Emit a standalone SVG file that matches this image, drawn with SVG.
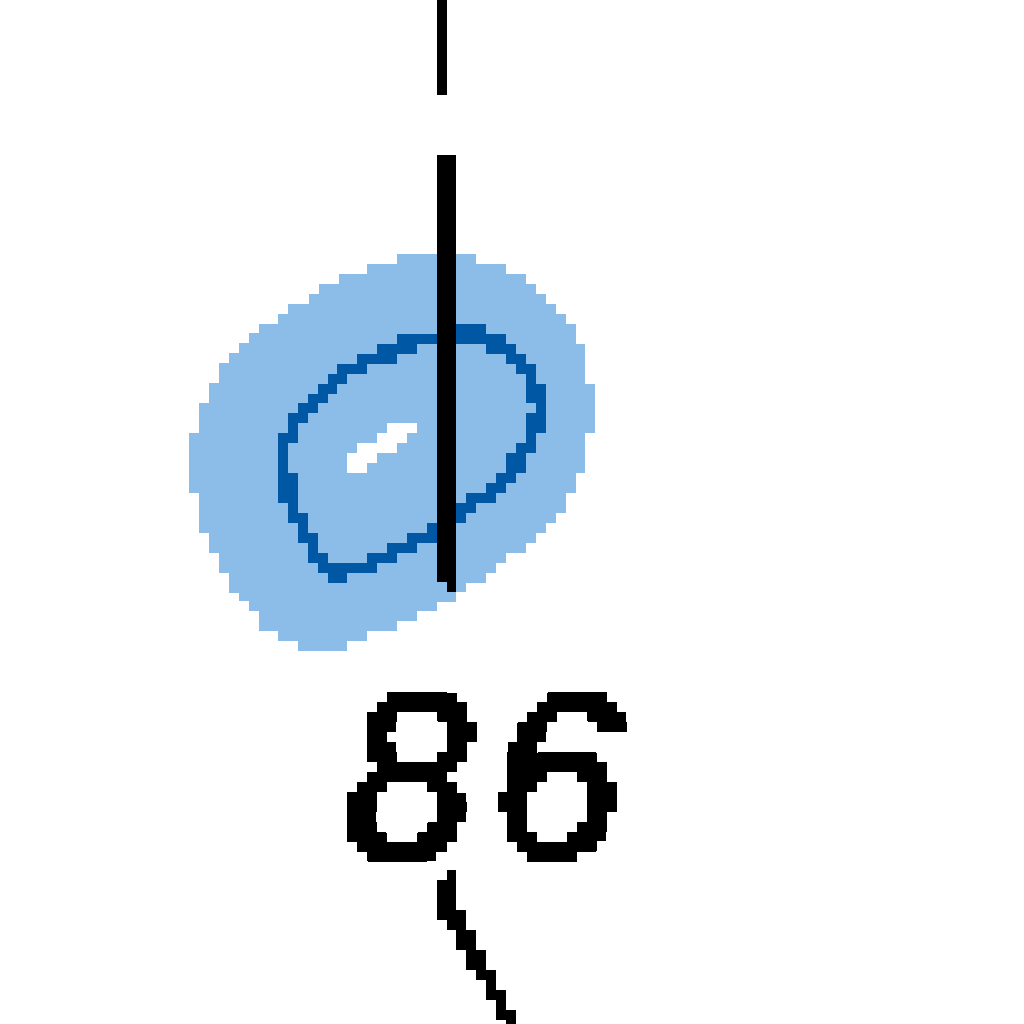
<svg xmlns="http://www.w3.org/2000/svg" width="1024" height="1024" viewBox="0 0 1024 1024">
<style>
.px{shape-rendering:crispEdges}
</style>
<defs>
<filter id="pixelate" filterUnits="userSpaceOnUse" primitiveUnits="userSpaceOnUse" x="337" y="682" width="310" height="190" color-interpolation-filters="sRGB">
<feFlood x="341" y="686" width="2" height="2"/>
<feComposite x="337" y="682" width="10" height="10"/>
<feTile result="grid"/>
<feComposite in="SourceGraphic" in2="grid" operator="in"/>
<feMorphology operator="dilate" radius="4"/>
<feComponentTransfer><feFuncA type="discrete" tableValues="0 1"/></feComponentTransfer>
</filter>
</defs>
<rect width="1024" height="1024" fill="#fff"/>
<path class="px" fill="#8cbde9" d="M397 254H476V264H506V274H526V284H536V294H546V304H556V314H566V324H576V344H585V384H595V433H585V473H576V493H566V513H556V523H546V533H536V543H526V553H506V563H496V573H486V583H466V592H456V602H437V611H417V621H397V631H367V641H347V651H298V641H278V631H259V611H249V601H239V593H229V573H219V553H209V533H199V493H189V433H199V403H209V383H219V363H229V353H239V343H249V333H259V324H278V314H288V304H309V294H319V284H339V274H367V264H397Z"/>
<path class="px" fill="#0057a4" d="M456 324H486V334H456ZM397 334H437V344H397ZM456 334H506V344H456ZM377 344H417V354H377ZM486 344H516V354H486ZM357 354H397V364H357ZM506 354H526V364H506ZM337 364H367V374H337ZM516 364H536V374H516ZM328 374H347V384H328ZM526 374H536V384H526ZM318 384H337V394H318ZM526 384H546V394H526ZM308 394H328V403H308ZM526 394H546V403H526ZM298 403H318V413H298ZM536 403H546V413H536ZM288 413H308V423H288ZM526 413H546V423H526ZM288 423H298V433H288ZM526 423H546V433H526ZM278 433H298V443H278ZM526 433H536V443H526ZM278 443H288V473H278ZM516 443H536V453H516ZM506 453H526V473H506ZM278 473H298V503H278ZM496 473H516V483H496ZM486 483H506V493H486ZM466 493H496V503H466ZM288 503H298V513H288ZM456 503H476V513H456ZM288 513H308V523H288ZM456 513H466V523H456ZM298 523H308V533H298ZM427 523H437V533H427ZM298 533H318V543H298ZM407 533H437V543H407ZM308 543H318V553H308ZM387 543H417V553H387ZM308 553H328V563H308ZM367 553H397V563H367ZM318 563H377V573H318ZM328 573H347V583H328Z"/>
<path class="px" fill="#fff" d="M387 423H417V433H407V443H397V453H377V463H367V473H347V453H357V443H377V433H387Z"/>
<g id="connectors">
<rect class="px" x="437" y="0" width="10" height="95"/>
<path class="px" d="M437 155H456V592H447V582H437Z"/>
<path class="px" d="M447 870H456V910H466V930H476V950H486V970H496V990H506V1010H516V1024H506V1020H496V1000H486V980H476V970H466V950H456V930H447V920H437V880H447Z"/>
</g>
<g id="node-86" filter="url(#pixelate)">
<text x="342" y="858" font-family="Liberation Sans, Arial, sans-serif" font-style="italic" font-size="235" textLength="280" fill="#000" stroke="#000" stroke-width="5">86</text>
</g>
</svg>
